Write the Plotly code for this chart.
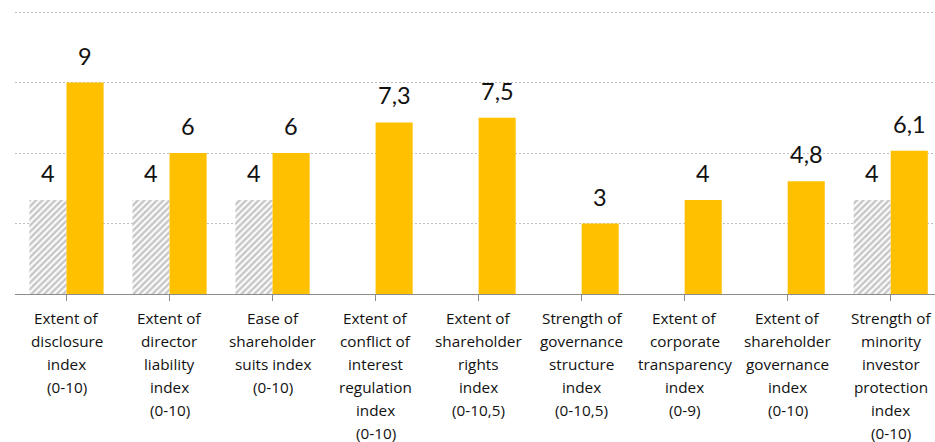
import plotly.graph_objects as go

categories = [
    "Extent of\ndisclosure\nindex\n(0-10)",
    "Extent of\ndirector\nliability\nindex\n(0-10)",
    "Ease of\nshareholder\nsuits index\n(0-10)",
    "Extent of\nconflict of\ninterest\nregulation\nindex\n(0-10)",
    "Extent of\nshareholder\nrights\nindex\n(0-10,5)",
    "Strength of\ngovernance\nstructure\nindex\n(0-10,5)",
    "Extent of\ncorporate\ntransparency\nindex\n(0-9)",
    "Extent of\nshareholder\ngovernance\nindex\n(0-10)",
    "Strength of\nminority\ninvestor\nprotection\nindex\n(0-10)",
]
grey_values = [4, 4, 4, None, None, None, None, None, 4]
gold_values = [9, 6, 6, 7.3, 7.5, 3, 4, 4.8, 6.1]

GOLD = "#FFC000"
TEXT = "#111111"
BARGAP = 0.28
xs = list(range(len(categories)))

fig = go.Figure()
fig.add_trace(go.Bar(
    x=xs, y=grey_values, name="grey",
    marker=dict(color="white", line=dict(width=0),
                pattern=dict(shape="/", fgcolor="#8f8f8f", bgcolor="white", size=4.5, solidity=0.55)),
    hoverinfo="skip",
))
fig.add_trace(go.Bar(
    x=xs, y=gold_values, name="gold",
    marker=dict(color=GOLD, line=dict(width=0)),
    hoverinfo="skip",
))

def fmt(v):
    return ("%g" % v).replace(".", ",")

half = (1 - BARGAP) / 4
anns = []
label_font = dict(family="Lato", size=23.5, color=TEXT)
for i, v in enumerate(grey_values):
    if v is not None:
        anns.append(dict(x=i - half, y=v, text=fmt(v), showarrow=False, yanchor="bottom",
                         yshift=11, font=label_font))
for i, v in enumerate(gold_values):
    anns.append(dict(x=i + half, y=v, text=fmt(v), showarrow=False, yanchor="bottom",
                     yshift=11, font=label_font))

# category labels, one annotation per line (to reproduce the wider line spacing)
cat_font = dict(family="Open Sans", size=15.3, color=TEXT)
for i, lab in enumerate(categories):
    for k, line in enumerate(lab.split("\n")):
        anns.append(dict(x=i, y=0, xref="x", yref="paper", text=line, showarrow=False,
                         yanchor="middle", xanchor="center", yshift=-24 - 23 * k,
                         font=cat_font))

fig.update_layout(
    width=935, height=442,
    margin=dict(l=15, r=0, t=5, b=148),
    paper_bgcolor="white", plot_bgcolor="white",
    barmode="group", bargap=BARGAP, bargroupgap=0,
    showlegend=False,
    annotations=anns,
    xaxis=dict(
        range=[-0.5, 8.43], tickmode="array", tickvals=xs, ticktext=[""] * len(xs),
        tickangle=0, showgrid=False, zeroline=False,
        showline=True, linecolor="#8c8c8c", linewidth=1,
        ticks="outside", tickson="boundaries", ticklen=6, tickcolor="#8c8c8c",
        fixedrange=True,
    ),
    yaxis=dict(
        range=[0, 12.3], tickmode="array", tickvals=[3, 6, 9, 12], showticklabels=False,
        showgrid=True, gridcolor="#bfbfbf", griddash="2px,2px", gridwidth=1,
        zeroline=False, showline=False, ticks="",
        fixedrange=True,
    ),
)

fig.write_html("out.html", post_script="document.body.style.margin='0';",
               config={"displayModeBar": False})
